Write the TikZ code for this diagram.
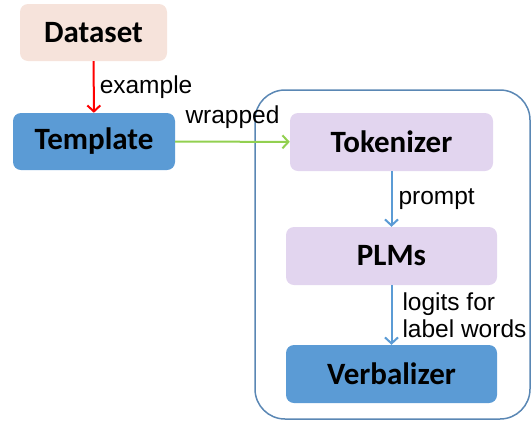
\documentclass[tikz,border=0pt]{standalone}
\usepackage{fontspec}
\setmainfont{Liberation Sans}
\newfontfamily\boxfont{Carlito}
\usetikzlibrary{arrows.meta,positioning}
\definecolor{peach}{HTML}{F6E3DB}
\definecolor{lavender}{HTML}{E2D5EF}
\definecolor{steel}{HTML}{5B9BD5}
\definecolor{frame}{HTML}{5A87B4}
\definecolor{leaf}{HTML}{92D050}
\begin{document}
\begin{tikzpicture}[x=1pt, y=-1pt,
    stage/.style={rounded corners=8pt, inner sep=0pt, font=\boxfont\bfseries\fontsize{31}{32}\selectfont},
    flow/.style={line width=2pt, -{Straight Barb[length=6pt, width=13pt]}},
    tag/.style={font=\fontsize{24.5}{27}\selectfont, align=left, inner sep=0pt}]
      \useasboundingbox (0,0) rectangle (532,421);
      % container of the prompt model
      \draw [frame, line width=1.5pt, rounded corners=30pt] (255,90) rectangle (530,419);
      \node [stage, fill=peach, minimum width=147pt, minimum height=57pt] (dataset) at (93.5,32.5) {Dataset};
      \node [stage, fill=steel, minimum width=162pt, minimum height=57pt] (template) at (94,141.5) {Template};
      \node [stage, fill=lavender, minimum width=203pt, minimum height=58pt] (tokenizer) at (391.5,142) {Tokenizer};
      \node [stage, fill=lavender, minimum width=211pt, minimum height=58pt] (plms) at (391.5,256) {PLMs};
      \node [stage, fill=steel, minimum width=211pt, minimum height=58pt] (verbalizer) at (391.5,374) {Verbalizer};
      % connectors
      \draw [flow, red] (dataset) -- (template) node [tag, midway, right=5pt, black] {example};
      \draw [flow, leaf] (template) -- (tokenizer) node [tag, midway, above=12pt, black] {wrapped};
      \draw [flow, steel] (tokenizer) -- (plms) node [tag, midway, right=6pt, black] {prompt};
      \draw [flow, steel] (plms) -- (verbalizer) node [tag, midway, right=10pt, black] {logits for\\label words};
\end{tikzpicture}
\end{document}
